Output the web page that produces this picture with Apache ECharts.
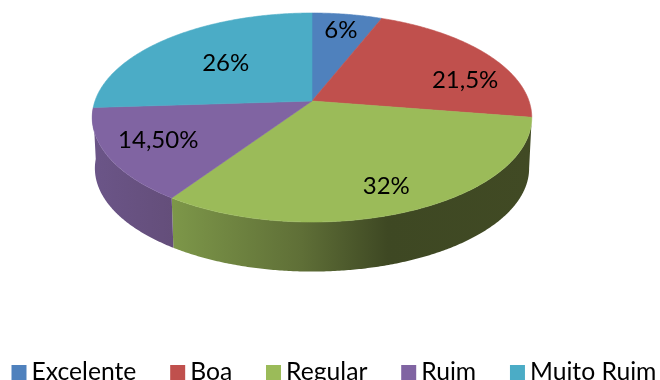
<!DOCTYPE html>
<html>
<head>
<meta charset="utf-8">
<style>html,body{margin:0;padding:0;background:#fff}#c{width:660px;height:380px}</style>
<script src="https://cdn.jsdelivr.net/npm/echarts@6/dist/echarts.min.js"></script>
</head>
<body>
<div id="c"></div>
<script>
const categories = ['Excelente', 'Boa', 'Regular', 'Ruim', 'Muito Ruim'];
const values = [6, 21.5, 32, 14.5, 26];
const valueLabels = ['6%', '21,5%', '32%', '14,50%', '26%'];
const colors = ['#4F81BD', '#C0504D', '#9BBB59', '#8064A2', '#4BACC6'];
const labelRadius = [0.8, 0.76, 0.8, 0.76, 0.58];
const labelTurn = [0, 13.4, 1.2, 1.2, 0];

// Side-wall shading, by category (left to right)
const wallShades = {
  2: [[0, '#7d9749'], [0.36, '#5f6f37'], [0.6, '#3e4823'], [1, '#414a24']],
  3: [[0, '#6b5588'], [1, '#644e7a']]
};

// Tilted-disc projection
const CX = 312, CY = 101, A = 217, B = 101.9, P = 0.158;
const DEPTH = 51, BASE_SCALE = 0.988;
const WALL_FROM = 99, WALL_TO = 266;

function project(deg, r, base) {
  const t = deg * Math.PI / 180;
  const X = r * Math.sin(t), Y = r * Math.cos(t), w = 1 + P * Y;
  const s = base ? BASE_SCALE : 1;
  return [CX + s * A * X / w, CY + (base ? DEPTH : 0) - s * B * Y / w];
}
function arc(from, to, base) {
  const n = Math.max(2, Math.ceil((to - from) * 2)), pts = [];
  for (let i = 0; i <= n; i++) pts.push(project(from + (to - from) * i / n, 1, base));
  return pts;
}

const total = values.reduce((a, b) => a + b, 0);
const starts = values.map((_, i) => values.slice(0, i).reduce((a, b) => a + b, 0));

function renderSlice(idx) {
  return function (params, api) {
    const from = api.value(0) / total * 360;
    const to = from + api.value(1) / total * 360;
    const children = [];
    const wa = Math.max(from, WALL_FROM), wb = Math.min(to, WALL_TO);
    if (wb > wa && wallShades[idx]) {
      const pts = arc(wa, wb, false).concat(arc(wa, wb, true).reverse());
      const stops = wallShades[idx].map(s => ({ offset: s[0], color: s[1] }));
      children.push({
        type: 'polygon',
        shape: { points: pts },
        style: { fill: new echarts.graphic.LinearGradient(0, 0, 1, 0, stops) }
      });
    }
    children.push({
      type: 'polygon',
      shape: { points: [[CX, CY]].concat(arc(from, to, false)) },
      style: { fill: colors[idx], stroke: colors[idx], lineWidth: 0.6 }
    });
    const p = project((from + to) / 2 + labelTurn[idx], labelRadius[idx], false);
    children.push({
      type: 'text',
      z2: 100,
      style: {
        text: valueLabels[idx], x: p[0], y: p[1],
        align: 'center', verticalAlign: 'middle',
        font: '24px Lato', fill: '#000'
      }
    });
    return { type: 'group', children: children };
  };
}

const chart = echarts.init(document.getElementById('c'), null, { renderer: 'canvas' });
chart.setOption({
  animation: false,
  backgroundColor: '#fff',
  legend: {
    left: 11.5, top: 360,
    itemWidth: 15, itemHeight: 15, itemGap: 33.8,
    icon: 'rect',
    padding: 0,
    selectedMode: false,
    textStyle: { fontFamily: 'Lato', fontSize: 24.7, color: '#000' },
    data: categories
  },
  series: categories.map((name, i) => ({
    type: 'custom',
    name: name,
    coordinateSystem: 'none',
    silent: true,
    itemStyle: { color: colors[i] },
    renderItem: renderSlice(i),
    data: [[starts[i], values[i]]]
  }))
});
</script>
</body>
</html>
